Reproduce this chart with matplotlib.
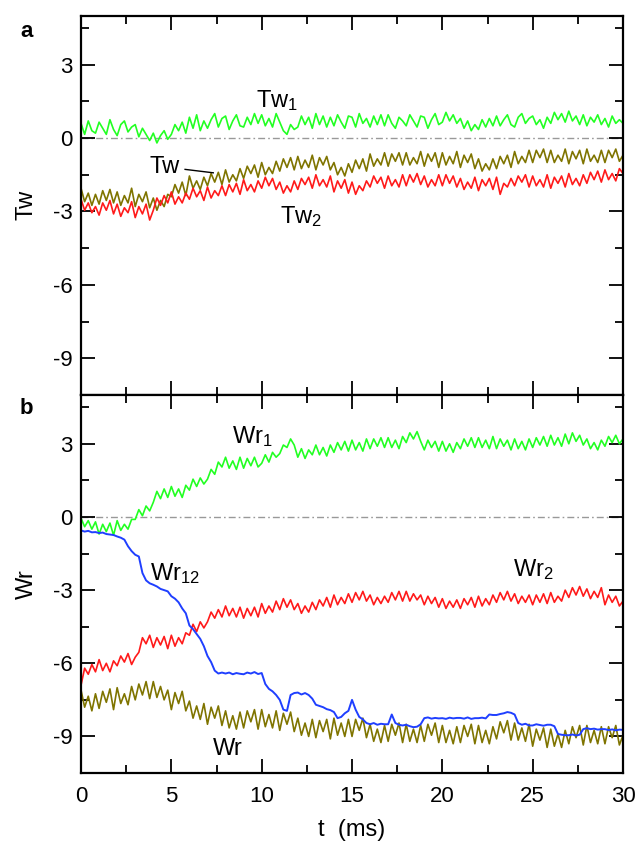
import numpy as np
import matplotlib
matplotlib.use("Agg")
import matplotlib.pyplot as plt
from matplotlib.ticker import MultipleLocator

plt.rcParams['font.family'] = ['Liberation Sans', 'DejaVu Sans']
plt.rcParams['mathtext.default'] = 'regular'
plt.rcParams['axes.unicode_minus'] = False

# time axis, 0.2 ms per sample (151 samples, 0..30 ms)
t = np.arange(151) * 0.2

# panel a: twist, one row per ms
tw1 = [0.60, 0.15, 0.70, 0.30, 0.20,
       0.65, 0.40, 0.15, 0.75, 0.35,
       0.10, 0.55, 0.70, 0.25, 0.45,
       0.55, 0.05, 0.40, 0.15, -0.10,
       0.20, -0.20, 0.10, 0.30, -0.05,
       0.15, 0.55, 0.30, 0.65, 0.20,
       0.85, 0.40, 0.95, 0.30, 0.70,
       0.40, 0.75, 1.00, 0.45, 0.80,
       0.90, 0.35, 0.70, 0.95, 0.50,
       0.45, 0.85, 0.55, 1.00, 0.60,
       0.95, 0.50, 0.80, 0.45, 1.00,
       0.65, 0.30, 0.15, 0.55, 0.35,
       0.45, 0.90, 0.55, 0.85, 0.40,
       1.00, 0.55, 0.90, 0.45, 0.85,
       0.50, 0.95, 0.65, 0.40, 0.90,
       0.85, 0.45, 1.00, 0.60, 0.80,
       0.45, 0.90, 0.55, 0.95, 0.50,
       0.95, 0.60, 0.40, 0.85, 0.70,
       0.50, 0.95, 0.70, 0.45, 0.90,
       0.85, 0.40, 0.75, 1.00, 0.55,
       0.65, 1.05, 0.70, 0.95, 0.60,
       0.80, 0.40, 0.70, 0.30, 0.55,
       0.35, 0.75, 0.45, 0.80, 0.50,
       0.90, 0.50, 0.75, 0.95, 0.55,
       0.45, 0.85, 1.00, 0.60, 0.80,
       0.90, 0.55, 0.75, 0.40, 0.85,
       0.60, 1.05, 0.75, 1.00, 0.65,
       1.10, 0.70, 0.90, 0.55, 0.95,
       0.50, 0.85, 0.65, 0.95, 0.55,
       0.80, 0.45, 0.90, 0.60, 0.75,
       0.60]
tw2 = [-2.50, -2.95, -2.65, -3.05, -2.80,
       -3.15, -2.65, -2.95, -2.55, -3.10,
       -2.70, -3.20, -2.85, -3.05, -2.60,
       -3.25, -2.80, -3.10, -2.70, -3.35,
       -2.95, -2.45, -2.75, -2.35, -2.65,
       -2.20, -2.70, -2.40, -2.65, -2.25,
       -2.50, -2.05, -2.40, -2.15, -2.55,
       -2.00, -2.45, -2.15, -2.35, -1.95,
       -2.35, -1.90, -2.20, -1.85, -2.30,
       -1.70, -2.15, -1.90, -2.20, -1.75,
       -2.05, -1.60, -1.95, -1.65, -2.10,
       -1.80, -2.25, -1.95, -2.20, -1.75,
       -2.10, -1.65, -1.90, -1.60, -2.05,
       -1.50, -1.95, -1.70, -2.00, -1.55,
       -2.20, -1.75, -2.05, -1.70, -2.25,
       -1.80, -2.30, -1.95, -2.15, -1.75,
       -2.00, -1.55, -1.85, -1.60, -2.05,
       -1.55, -1.95, -1.70, -2.00, -1.50,
       -1.95, -1.50, -1.80, -1.45, -1.90,
       -1.55, -2.00, -1.70, -1.95, -1.50,
       -1.95, -1.50, -1.85, -1.55, -2.00,
       -1.65, -2.10, -1.80, -2.05, -1.60,
       -2.15, -1.70, -1.95, -1.65, -2.10,
       -1.60, -2.30, -1.85, -2.00, -1.65,
       -1.95, -1.55, -1.80, -1.50, -2.00,
       -1.55, -1.95, -1.70, -2.00, -1.50,
       -2.05, -1.60, -1.85, -1.55, -2.00,
       -1.45, -1.90, -1.65, -1.95, -1.50,
       -1.85, -1.40, -1.70, -1.35, -1.80,
       -1.30, -1.70, -1.45, -1.75, -1.25,
       -1.45]
tw = [-2.05, -2.60, -2.25, -2.75, -2.30,
      -2.70, -2.15, -2.55, -2.10, -2.65,
      -2.20, -2.75, -2.35, -2.65, -2.05,
      -2.80, -2.30, -2.60, -2.20, -2.85,
      -2.45, -2.95, -2.55, -2.80, -2.30,
      -2.40, -1.90, -2.25, -1.80, -2.35,
      -1.55, -2.05, -1.75, -2.10, -1.60,
      -1.95, -1.45, -1.80, -1.40, -1.90,
      -1.30, -1.80, -1.50, -1.75, -1.25,
      -1.65, -1.15, -1.45, -1.10, -1.60,
      -1.00, -1.50, -1.20, -1.45, -0.95,
      -1.35, -0.85, -1.20, -0.80, -1.30,
      -0.75, -1.25, -0.90, -1.20, -0.70,
      -1.30, -0.80, -1.10, -0.75, -1.30,
      -1.00, -1.50, -1.20, -1.55, -1.05,
      -1.40, -0.90, -1.25, -0.85, -1.35,
      -0.65, -1.15, -0.85, -1.10, -0.60,
      -1.15, -0.65, -0.95, -0.60, -1.10,
      -0.60, -1.10, -0.80, -1.05, -0.55,
      -1.15, -0.65, -0.95, -0.60, -1.20,
      -0.60, -1.10, -0.75, -1.05, -0.55,
      -1.20, -0.70, -1.00, -0.65, -1.25,
      -0.85, -1.35, -1.05, -1.30, -0.85,
      -1.25, -0.75, -1.05, -0.70, -1.20,
      -0.55, -1.05, -0.75, -1.00, -0.50,
      -1.00, -0.50, -0.80, -0.45, -1.00,
      -0.50, -1.00, -0.70, -0.95, -0.45,
      -1.05, -0.55, -0.85, -0.50, -1.05,
      -0.45, -0.95, -0.70, -1.00, -0.50,
      -1.00, -0.50, -0.80, -0.45, -0.95,
      -0.70]

# panel b: writhe, one row per ms
wr1 = [-0.05, -0.40, -0.15, -0.50, -0.20,
       -0.70, -0.30, -0.60, -0.25, -0.75,
       -0.15, -0.55, -0.30, -0.50, -0.10,
       -0.10, 0.30, 0.05, 0.45, 0.25,
       0.60, 1.05, 0.75, 1.15, 0.80,
       1.25, 0.85, 1.15, 0.80, 1.30,
       1.10, 1.55, 1.25, 1.60, 1.35,
       1.55, 1.95, 1.75, 2.25, 2.05,
       2.45, 2.00, 2.30, 1.95, 2.45,
       2.00, 2.40, 2.10, 2.45, 2.05,
       2.20, 2.55, 2.25, 2.65, 2.45,
       2.60, 2.95, 2.85, 3.20, 2.95,
       2.45, 2.80, 2.40, 2.75, 2.55,
       2.95, 2.55, 2.85, 2.50, 2.95,
       2.65, 3.05, 2.75, 3.10, 2.70,
       3.15, 2.75, 3.05, 2.70, 3.20,
       2.80, 3.20, 2.90, 3.25, 2.85,
       3.25, 2.85, 3.15, 2.80, 3.30,
       3.05, 3.45, 3.20, 3.50, 3.10,
       2.75, 3.15, 2.85, 3.10, 2.70,
       3.10, 2.70, 3.00, 2.65, 3.05,
       2.80, 3.20, 2.90, 3.25, 2.85,
       3.25, 2.85, 3.15, 2.80, 3.30,
       2.80, 3.20, 2.90, 3.15, 2.75,
       3.20, 2.80, 3.10, 2.75, 3.20,
       2.85, 3.25, 2.95, 3.30, 2.90,
       3.35, 2.95, 3.25, 2.90, 3.40,
       3.00, 3.45, 3.10, 3.35, 2.95,
       3.20, 2.80, 3.05, 2.75, 3.15,
       2.90, 3.30, 3.05, 3.35, 3.00,
       3.20]
wr2 = [-6.90, -6.20, -6.45, -6.05, -6.35,
       -5.85, -6.30, -6.00, -6.35, -5.90,
       -6.10, -5.70, -5.95, -5.60, -6.05,
       -5.75, -5.55, -4.95, -5.20, -4.85,
       -5.35, -4.95, -5.25, -4.90, -5.40,
       -4.85, -5.30, -4.95, -5.20, -4.75,
       -4.85, -4.40, -4.70, -4.30, -4.55,
       -4.30, -3.90, -4.15, -3.80, -4.10,
       -3.65, -4.05, -3.75, -4.10, -3.70,
       -4.15, -3.75, -4.05, -3.70, -4.10,
       -3.55, -3.95, -3.65, -3.90, -3.45,
       -3.80, -3.35, -3.70, -3.40, -3.80,
       -3.55, -3.95, -3.65, -3.90, -3.50,
       -3.80, -3.40, -3.65, -3.30, -3.70,
       -3.20, -3.60, -3.30, -3.55, -3.15,
       -3.50, -3.10, -3.40, -3.05, -3.45,
       -3.20, -3.60, -3.30, -3.55, -3.25,
       -3.50, -3.10, -3.40, -3.05, -3.45,
       -3.05, -3.45, -3.15, -3.40, -3.20,
       -3.60, -3.25, -3.55, -3.30, -3.70,
       -3.35, -3.75, -3.45, -3.70, -3.40,
       -3.75, -3.35, -3.60, -3.30, -3.70,
       -3.25, -3.65, -3.35, -3.60, -3.20,
       -3.50, -3.10, -3.40, -3.05, -3.45,
       -3.15, -3.55, -3.25, -3.50, -3.20,
       -3.60, -3.20, -3.50, -3.15, -3.55,
       -3.10, -3.50, -3.25, -3.45, -3.00,
       -3.30, -2.90, -3.20, -2.85, -3.25,
       -2.95, -3.35, -3.05, -3.30, -2.90,
       -3.60, -3.20, -3.50, -3.25, -3.65,
       -3.45]
wr12 = [-0.55, -0.60, -0.57, -0.63, -0.62,
        -0.66, -0.64, -0.70, -0.72, -0.74,
        -0.80, -0.85, -0.93, -1.20, -1.40,
        -1.55, -1.62, -2.30, -2.60, -2.72,
        -2.78, -2.85, -2.95, -3.00, -3.05,
        -3.25, -3.35, -3.50, -3.75, -3.95,
        -4.45, -4.60, -4.80, -5.00, -5.30,
        -5.70, -5.95, -6.30, -6.42, -6.38,
        -6.42, -6.38, -6.45, -6.40, -6.43,
        -6.45, -6.38, -6.42, -6.36, -6.44,
        -6.40, -6.85, -7.05, -7.15, -7.30,
        -7.50, -7.90, -7.95, -7.30, -7.22,
        -7.20, -7.28, -7.22, -7.30, -7.45,
        -7.70, -7.75, -7.80, -7.88, -7.92,
        -8.00, -8.25, -8.20, -8.05, -7.95,
        -7.50, -7.90, -8.20, -8.30, -8.45,
        -8.50, -8.45, -8.52, -8.48, -8.50,
        -8.50, -8.10, -8.45, -8.52, -8.55,
        -8.52, -8.58, -8.62, -8.60, -8.50,
        -8.25, -8.22, -8.27, -8.24, -8.26,
        -8.25, -8.28, -8.23, -8.26, -8.24,
        -8.24, -8.27, -8.22, -8.28, -8.25,
        -8.25, -8.23, -8.26, -8.10, -8.12,
        -8.12, -8.08, -8.05, -8.00, -8.03,
        -8.10, -8.45, -8.52, -8.48, -8.55,
        -8.55, -8.50, -8.53, -8.56, -8.52,
        -8.52, -8.58, -8.90, -8.93, -8.95,
        -8.95, -8.92, -8.96, -8.93, -8.70,
        -8.66, -8.70, -8.68, -8.72, -8.70,
        -8.70, -8.74, -8.71, -8.75, -8.72,
        -8.73]
wr = [-7.10, -7.80, -7.35, -7.95, -7.25,
      -7.85, -7.15, -7.60, -7.05, -7.90,
      -7.00, -7.65, -7.25, -7.70, -6.95,
      -7.50, -6.85, -7.30, -6.75, -7.45,
      -6.75, -7.40, -6.95, -7.50, -7.10,
      -7.90, -7.20, -7.65, -7.15, -7.95,
      -7.55, -8.25, -7.75, -8.30, -7.65,
      -8.50, -7.80, -8.25, -7.75, -8.55,
      -7.95, -8.65, -8.15, -8.70, -8.00,
      -8.65, -7.95, -8.40, -7.90, -8.70,
      -7.90, -8.60, -8.10, -8.65, -7.95,
      -8.75, -8.05, -8.50, -8.00, -8.80,
      -8.25, -8.95, -8.45, -9.00, -8.30,
      -9.05, -8.35, -8.80, -8.30, -9.10,
      -8.25, -8.95, -8.45, -9.00, -8.30,
      -9.00, -8.30, -8.75, -8.25, -9.05,
      -8.50, -9.20, -8.70, -9.25, -8.55,
      -9.20, -8.50, -8.95, -8.45, -9.25,
      -8.50, -9.20, -8.70, -9.25, -8.55,
      -9.20, -8.50, -8.95, -8.45, -9.25,
      -8.55, -9.25, -8.75, -9.30, -8.60,
      -9.25, -8.55, -9.00, -8.50, -9.30,
      -8.55, -9.25, -8.75, -9.30, -8.60,
      -9.10, -8.40, -8.85, -8.35, -9.15,
      -8.45, -9.15, -8.65, -9.20, -8.50,
      -9.40, -8.70, -9.15, -8.65, -9.45,
      -8.70, -9.40, -8.90, -9.45, -8.75,
      -9.30, -8.60, -9.05, -8.55, -9.35,
      -8.55, -9.25, -8.75, -9.30, -8.60,
      -9.30, -8.60, -9.05, -8.55, -9.35,
      -8.95]

GREEN = '#22ff22'
RED = '#ff1a1a'
OLIVE = '#7f7400'
BLUE = '#1f3fff'

fig = plt.figure(figsize=(6.38, 8.43), dpi=100)
ax1 = fig.add_axes([0.127, 0.5314, 0.8495, 0.45])
ax2 = fig.add_axes([0.127, 0.0830, 0.8495, 0.4484], sharex=ax1)

for ax in (ax1, ax2):
    ax.axhline(0, color='#999999', lw=1.0, dashes=[5, 2.2, 1.2, 2.2], zorder=1)
    ax.set_xlim(0, 30)
    ax.set_ylim(-10.5, 5)
    ax.xaxis.set_major_locator(MultipleLocator(5))
    ax.xaxis.set_minor_locator(MultipleLocator(2.5))
    ax.yaxis.set_major_locator(MultipleLocator(3))
    ax.yaxis.set_minor_locator(MultipleLocator(1.5))
    ax.tick_params(which='both', direction='in', top=True, right=True,
                   width=1.3, labelsize=16)
    ax.tick_params(which='major', length=10)
    ax.tick_params(which='minor', length=5.5)
    ax.tick_params(axis='y', pad=6)
    ax.tick_params(axis='x', pad=9)
    for s in ax.spines.values():
        s.set_linewidth(1.6)

ax1.plot(t, tw1, color=GREEN, lw=1.2)
ax1.plot(t, tw, color=OLIVE, lw=1.2)
ax1.plot(t, tw2, color=RED, lw=1.2)
ax1.tick_params(axis='x', labelbottom=False)

ax2.plot(t, wr1, color=GREEN, lw=1.2)
ax2.plot(t, wr2, color=RED, lw=1.2)
ax2.plot(t, wr, color=OLIVE, lw=1.2)
ax2.plot(t, wr12, color=BLUE, lw=1.4)

lab = dict(fontsize=17, va='center', ha='left')
ax1.text(9.7, 1.55, 'Tw$_1$', **lab)
ax1.text(3.8, -1.2, 'Tw', **lab)
ax1.plot([5.76, 7.32], [-1.28, -1.42], color='black', lw=1.0)
ax1.text(11.0, -3.2, 'Tw$_2$', **lab)

ax2.text(8.35, 3.3, 'Wr$_1$', **lab)
ax2.text(3.8, -2.3, 'Wr$_{12}$', **lab)
ax2.text(23.9, -2.15, 'Wr$_2$', **lab)
ax2.text(7.3, -9.5, 'Wr', **lab)

ax1.set_ylabel('Tw', fontsize=17)
ax2.set_ylabel('Wr', fontsize=17)
ax1.yaxis.set_label_coords(-0.08, 0.5)
ax2.yaxis.set_label_coords(-0.08, 0.5)
ax2.set_xlabel('t  (ms)', fontsize=17, labelpad=9)

fig.text(0.042, 0.963, 'a', fontsize=16, fontweight='bold', ha='center', va='center')
fig.text(0.042, 0.515, 'b', fontsize=16, fontweight='bold', ha='center', va='center')

fig.savefig('out.png', dpi=100)
